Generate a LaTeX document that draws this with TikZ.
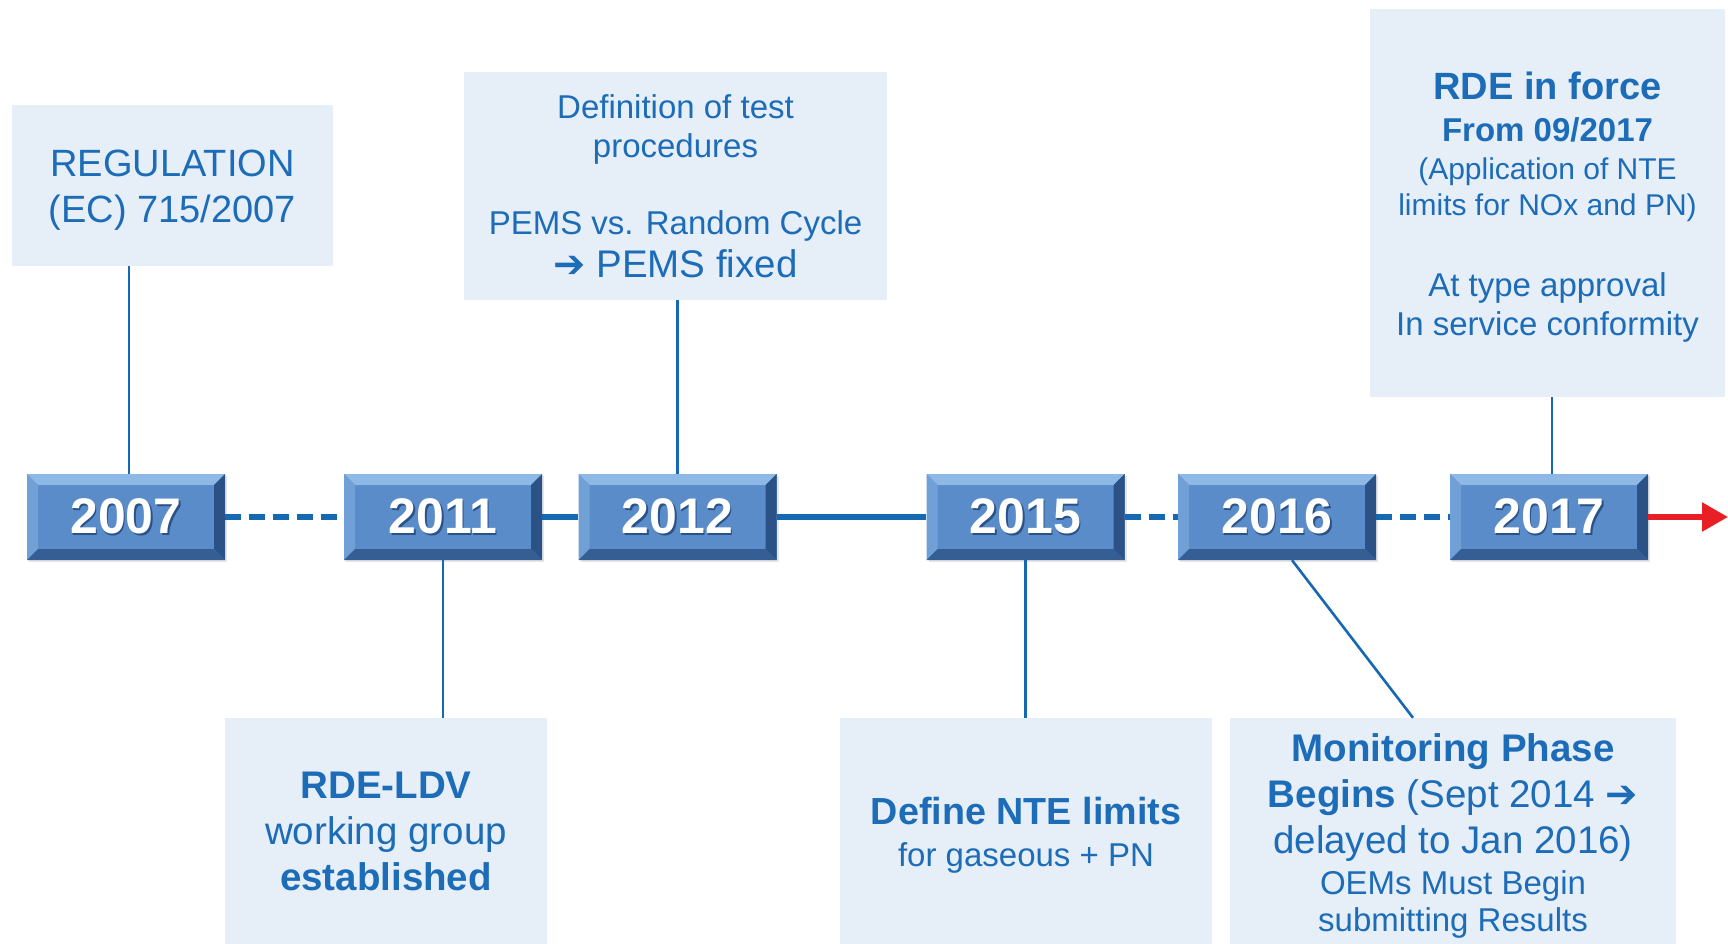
\documentclass[tikz,border=0pt]{standalone}
\usepackage{fontspec}
\setmainfont{Liberation Sans}
\newfontfamily\arrowfont{DejaVu Sans}
\usetikzlibrary{arrows.meta}
\usetikzlibrary{shapes}
\usetikzlibrary{backgrounds,shadows}

\definecolor{notebg}{RGB}{230,238,248}
\definecolor{notetext}{RGB}{28,108,184}
\definecolor{linkblue}{RGB}{22,104,178}
\definecolor{yearfill}{RGB}{90,140,202}
\definecolor{yeartop}{RGB}{142,184,230}
\definecolor{yearleft}{RGB}{112,160,214}
\definecolor{yeardark}{RGB}{42,82,134}
\definecolor{nowred}{RGB}{232,32,38}

% white year digits with a dark drop behind them
\newcommand{\yeartxt}[1]{\rlap{\hspace{1.5pt}\raisebox{-2pt}{\color{yeardark}#1}}#1}

\tikzset{
  note/.style={fill=notebg, text=notetext, align=center, inner sep=0pt},
  year/.style={fill=yearfill, minimum width=198, minimum height=86, inner sep=0pt,
    text=white, font=\fontsize{50}{50}\selectfont\bfseries,
    drop shadow={opacity=0.2, shadow xshift=2pt, shadow yshift=-2pt},
    path picture={
      \fill[yeartop] (path picture bounding box.north west) -- (path picture bounding box.north east)
        -- ([xshift=-11pt,yshift=-11pt]path picture bounding box.north east)
        -- ([xshift=11pt,yshift=-11pt]path picture bounding box.north west) -- cycle;
      \fill[yearleft] (path picture bounding box.north west) -- (path picture bounding box.south west)
        -- ([xshift=11pt,yshift=11pt]path picture bounding box.south west)
        -- ([xshift=11pt,yshift=-11pt]path picture bounding box.north west) -- cycle;
      \fill[yeardark] (path picture bounding box.north east) -- (path picture bounding box.south east)
        -- ([xshift=-11pt,yshift=11pt]path picture bounding box.south east)
        -- ([xshift=-11pt,yshift=-11pt]path picture bounding box.north east) -- cycle;
      \fill[yeardark!80!yearfill] (path picture bounding box.south west) -- (path picture bounding box.south east)
        -- ([xshift=-11pt,yshift=11pt]path picture bounding box.south east)
        -- ([xshift=11pt,yshift=11pt]path picture bounding box.south west) -- cycle;
    }},
  link/.style={draw=linkblue, line width=2.6},
  track/.style={draw=linkblue, line width=5.5},
  gap/.style={track, dash pattern=on 16pt off 8pt},
  nowline/.style={draw=nowred, line width=5.5, -{Triangle[length=26pt, width=28pt]}}
}

\begin{document}
\begin{tikzpicture}[x=1pt, y=-1pt]
    \useasboundingbox (0, 0) rectangle (1728, 944);

    % Declare the notes
    \node[note, minimum width=321, minimum height=161, font=\fontsize{38}{46}\selectfont]
        at (172.5, 185.5) (reg) {\rule{0pt}{36pt}REGULATION\\(EC) 715/2007};
    \node[note, minimum width=423, minimum height=228, font=\fontsize{33}{39}\selectfont]
        at (675.5, 186) (proc) {Definition of test\\procedures\\[38pt]PEMS vs. Random Cycle\\[4pt]
        {\fontsize{38.5}{43}\selectfont{\arrowfont\bfseries ➔} PEMS fixed}};
    \node[note, minimum width=355, minimum height=388, font=\fontsize{30}{36}\selectfont]
        at (1547.5, 203) (force) {{\fontsize{38}{42}\selectfont\bfseries\rule{0pt}{36pt}RDE in force}\\[6pt]
        {\fontsize{33}{38}\selectfont\bfseries From 09/2017}\\[2pt]
        (Application of NTE\\limits for NOx and PN)\\[45pt]
        {\fontsize{33}{38}\selectfont At type approval}\\[3pt]
        {\fontsize{33}{38}\selectfont In service conformity}};
    \node[note, minimum width=322, minimum height=226, font=\fontsize{38.5}{46}\selectfont]
        at (386, 831) (ldv) {\textbf{RDE-LDV}\\working group\\\textbf{established}};
    \node[note, minimum width=372, minimum height=226, font=\fontsize{33}{42}\selectfont]
        at (1026, 831) (nte) {{\fontsize{37.7}{42}\selectfont\bfseries\rule{0pt}{36pt}Define NTE limits}\\for gaseous + PN};
    \node[note, minimum width=446, minimum height=226, font=\fontsize{38.5}{46}\selectfont]
        at (1453, 831) (mon) {\rule{0pt}{38pt}\textbf{Monitoring Phase}\\\textbf{Begins} (Sept 2014 {\arrowfont\bfseries ➔}\\
        delayed to Jan 2016)\\[-5pt]
        {\fontsize{33}{38}\selectfont OEMs Must Begin}\\[-9pt]
        {\fontsize{33}{38}\selectfont submitting Results}};

    % Declare the year boxes
    \node[year] at (126, 517) (y2007) {\yeartxt{2007}};
    \node[year] at (443, 517) (y2011) {\yeartxt{2011}};
    \node[year] at (677.5, 517) (y2012) {\yeartxt{2012}};
    \node[year] at (1025.5, 517) (y2015) {\yeartxt{2015}};
    \node[year] at (1277, 517) (y2016) {\yeartxt{2016}};
    \node[year] at (1549, 517) (y2017) {\yeartxt{2017}};
    \coordinate (later) at (1728, 517);

    % Declare the timeline
    \draw[gap] (y2007) -- (y2011);
    \draw[track] (y2011) -- (y2012);
    \draw[track] (y2012) -- (y2015);
    \draw[gap] (y2015) -- (y2016);
    \draw[gap] (y2016) -- (y2017);
    \draw[nowline] (y2017) -- (later);

    % Declare links to the notes
    \draw[link] ([xshift=3pt]y2007.north) -- ([xshift=3pt]y2007.north |- reg.south);
    \draw[link] (y2011.south) -- (y2011.south |- ldv.north);
    \draw[link] (y2012.north) -- (y2012.north |- proc.south);
    \draw[link] (y2015.south) -- (y2015.south |- nte.north);
    \draw[link] ([xshift=15pt]y2016.south) -- ([xshift=-40pt]mon.north);
    \draw[link] ([xshift=3pt]y2017.north) -- ([xshift=3pt]y2017.north |- force.south);

\end{tikzpicture}
\end{document}
